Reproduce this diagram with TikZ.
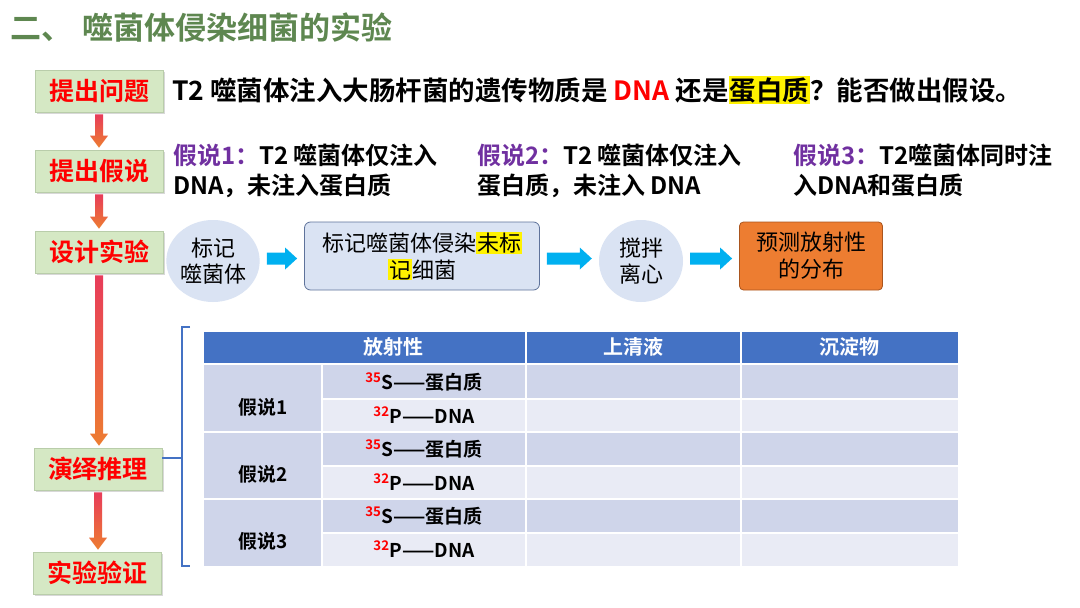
\documentclass[tikz,border=0pt]{standalone}
\usepackage{fontspec}
\setmainfont{Noto Sans CJK SC}[BoldFont={Noto Sans CJK SC Bold}]
\usepackage{xcolor}
\usetikzlibrary{positioning, calc, shadows, shapes.geometric}

\definecolor{titlegreen}{RGB}{94,135,80}
\definecolor{stagefill}{RGB}{213,232,196}
\definecolor{stageedge}{RGB}{185,205,170}
\definecolor{hypopurple}{RGB}{112,48,160}
\definecolor{flowfill}{RGB}{218,227,243}
\definecolor{flowedge}{RGB}{95,115,155}
\definecolor{arrowcyan}{RGB}{0,176,240}
\definecolor{predfill}{RGB}{237,125,49}
\definecolor{prededge}{RGB}{170,85,30}
\definecolor{arrowtop}{RGB}{232,60,90}
\definecolor{arrowbot}{RGB}{237,125,49}
\definecolor{tablehead}{RGB}{68,114,196}
\definecolor{rowdark}{RGB}{207,213,234}
\definecolor{rowlight}{RGB}{233,235,245}

\newcommand{\hlbox}[1]{{\setlength{\fboxsep}{1pt}\colorbox{yellow}{#1}}}
\newcommand{\iso}[1]{\textsuperscript{\textcolor{red}{#1}}}

% gradient arrow between two stage boxes
\newcommand{\stagearrow}[2]{%
  \shade[top color=arrowtop, bottom color=arrowbot]
    let \p1=($(#1.south)+(0,2)$), \p2=($(#2.north)+(0,-2)$) in
    (\x1-4pt,\y1) -- (\x1+4pt,\y1) -- (\x1+4pt,\y2+12pt) -- (\x1+9pt,\y2+12pt)
    -- (\x1,\y2) -- (\x1-9pt,\y2+12pt) -- (\x1-4pt,\y2+12pt) -- cycle;}

% cyan block arrow between two flow nodes
\newcommand{\flowarrow}[2]{%
  \fill[arrowcyan]
    let \p1=($(#1.east)+(7,0)$), \p2=($(#2.west)+(-7,0)$), \n1={(\y1+\y2)/2} in
    (\x1,\n1-6pt) -- (\x2-12pt,\n1-6pt) -- (\x2-12pt,\n1-11pt) -- (\x2,\n1)
    -- (\x2-12pt,\n1+11pt) -- (\x2-12pt,\n1+6pt) -- (\x1,\n1+6pt) -- cycle;}

\begin{document}
\begin{tikzpicture}[x=1pt, y=-1pt,
    stagebox/.style={draw=stageedge, line width=0.6pt, fill=stagefill,
      minimum width=128pt, minimum height=42pt, inner sep=0pt, text=red,
      font=\fontsize{25}{25}\selectfont\bfseries,
      drop shadow={shadow xshift=2pt, shadow yshift=-2pt, opacity=0.3}},
    hypo/.style={anchor=base west, align=left, inner sep=0pt,
      font=\fontsize{24}{30}\selectfont\bfseries},
    flowcircle/.style={ellipse, fill=flowfill, minimum width=90pt,
      minimum height=82pt, inner sep=0pt, align=center,
      font=\fontsize{22}{26}\selectfont},
    flowbox/.style={draw=flowedge, line width=0.8pt, rounded corners=6pt,
      minimum height=68pt, inner sep=0pt, align=center,
      font=\fontsize{22}{27}\selectfont},
    cellhead/.style={text=white, font=\fontsize{20}{20}\selectfont\bfseries},
    cell/.style={font=\fontsize{19}{19}\selectfont\bfseries}]

  \fill[white] (0,0) rectangle (1080,608);
  \useasboundingbox (0,0) rectangle (1080,608);

  % title
  \node[anchor=base west, inner sep=0pt, text=titlegreen,
    font=\fontsize{31}{31}\selectfont\bfseries] (title) at (10,39)
    {二、\hspace{10pt}噬菌体侵染细菌的实验};

  % stages on the left
  \node[stagebox] (ask) at (99,91) {提出问题};
  \node[stagebox] (guess) at (99,171) {提出假说};
  \node[stagebox] (design) at (99,252) {设计实验};
  \node[stagebox] (deduce) at (98,469) {演绎推理};
  \node[stagebox] (verify) at (97,573) {实验验证};

  \stagearrow{ask}{guess}
  \stagearrow{guess}{design}
  \stagearrow{design}{deduce}
  \stagearrow{deduce}{verify}

  % question and hypotheses
  \node[anchor=base west, inner sep=0pt, font=\fontsize{26.5}{26.5}\selectfont\bfseries]
    (question) at (172,100)
    {T2 噬菌体注入大肠杆菌的遗传物质是 \textcolor{red}{DNA} 还是\hlbox{蛋白质}？能否做出假设。};

  \node[hypo] (h1) at (173,194) {\textcolor{hypopurple}{假说1：}T2 噬菌体仅注入\\DNA，未注入蛋白质};
  \node[hypo] (h2) at (477,194) {\textcolor{hypopurple}{假说2：}T2 噬菌体仅注入\\蛋白质，未注入 DNA};
  \node[hypo] (h3) at (793,194) {\textcolor{hypopurple}{假说3：}T2噬菌体同时注\\入DNA和蛋白质};

  % experiment flow
  \node[flowcircle] (mark) at (213,261) {标记\\噬菌体};
  \node[flowbox, fill=flowfill, minimum width=235pt] (infect) at (422,256)
    {标记噬菌体侵染\hlbox{未标}\\\hlbox{记}细菌};
  \node[flowcircle, minimum width=84pt] (spin) at (641,261) {搅拌\\离心};
  \node[flowbox, fill=predfill, draw=prededge, minimum width=143pt,
    rounded corners=4pt] (predict) at (811,256) {预测放射性\\的分布};

  \flowarrow{mark}{infect}
  \flowarrow{infect}{spin}
  \flowarrow{spin}{predict}

  % table
  \fill[tablehead] (204,332) rectangle (958,363);
  \foreach \r/\c in {0/rowdark,1/rowlight,2/rowdark,3/rowlight,4/rowdark,5/rowlight}
    \fill[\c] (322,365+33.5*\r) rectangle (958,398.5+33.5*\r);
  \foreach \g in {0,1,2}
    \fill[rowdark] (204,365+67*\g) rectangle (322,432+67*\g);
  \draw[white, line width=2pt] (526,332) -- (526,566) (741,332) -- (741,566)
    (322,364) -- (322,566) (204,364) -- (958,364);
  \foreach \r in {1,3,5}
    \draw[white, line width=2pt] (322,365+33.5*\r) -- (958,365+33.5*\r);
  \foreach \g in {1,2}
    \draw[white, line width=2pt] (204,365+67*\g) -- (958,365+67*\g);

  \node[cellhead] (hd1) at (393,347) {放射性};
  \node[cellhead] (hd2) at (633,347) {上清液};
  \node[cellhead] (hd3) at (849,347) {沉淀物};

  \foreach \g in {1,2,3} {
    \node[cell] (g\g) at (263,340+67*\g) {假说\g};
    \node[cell] (s\g) at (424,382+67*\g-67) {\iso{35}S——蛋白质};
    \node[cell] (p\g) at (424,415+67*\g-67) {\iso{32}P——DNA};
  }

  % bracket to the deduction stage
  \coordinate (brk) at (182,458);
  \draw[tablehead, line width=2.5pt] (190,327) -- (182,327) -- (182,566) -- (190,566);
  \draw[tablehead, line width=2.5pt] (deduce.east |- brk) -- (brk);
\end{tikzpicture}
\end{document}
